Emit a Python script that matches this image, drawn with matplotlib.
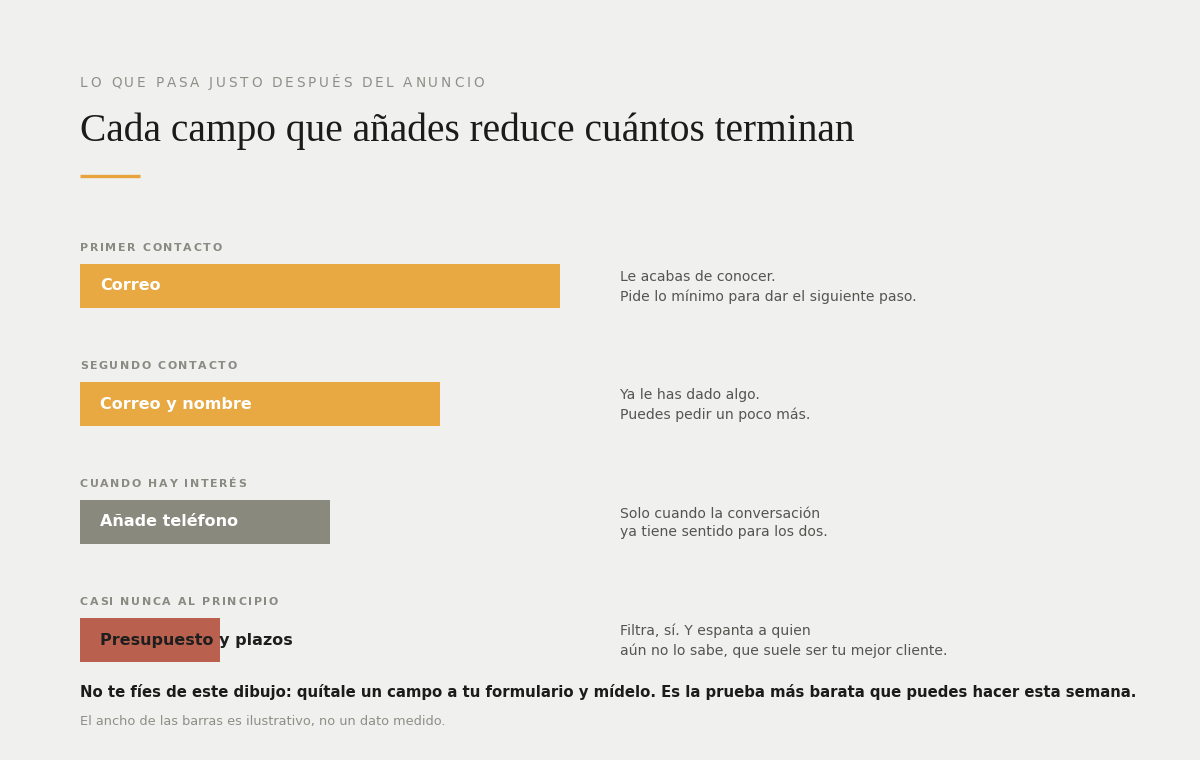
import matplotlib
matplotlib.use("Agg")
import matplotlib.pyplot as plt
from matplotlib import font_manager
from matplotlib.ft2font import FT2Font

# data
stages = ["PRIMER CONTACTO", "SEGUNDO CONTACTO", "CUANDO HAY INTERÉS", "CASI NUNCA AL PRINCIPIO"]
fields = ["Correo", "Correo y nombre", "Añade teléfono", "Presupuesto y plazos"]
widths = [100, 75, 52, 29.2]  # illustrative, not measured
notes = [
    "Le acabas de conocer.\nPide lo mínimo para dar el siguiente paso.",
    "Ya le has dado algo.\nPuedes pedir un poco más.",
    "Solo cuando la conversación\nya tiene sentido para los dos.",
    "Filtra, sí. Y espanta a quien\naún no lo sabe, que suele ser tu mejor cliente.",
]
bar_colors = ["#e8a842", "#e8a842", "#8a897e", "#b9614e"]
label_colors = ["white", "white", "white", "#1e1e1e"]

kicker = "LO QUE PASA JUSTO DESPUÉS DEL ANUNCIO"
title = "Cada campo que añades reduce cuántos terminan"
takeaway = "No te fíes de este dibujo: quítale un campo a tu formulario y mídelo. Es la prueba más barata que puedes hacer esta semana."
footnote = "El ancho de las barras es ilustrativo, no un dato medido."

BG = "#f0f1ee"
W, H = 1200, 760
DPI = 100

fig = plt.figure(figsize=(W / DPI, H / DPI), dpi=DPI, facecolor=BG)
ax = fig.add_axes([0, 0, 1, 1])
ax.set_xlim(0, W)
ax.set_ylim(H, 0)
ax.axis("off")
ax.set_facecolor(BG)


def spaced_text(x, y, s, spacing, fontsize, weight="normal", **kw):
    # no letter-spacing in matplotlib: lay out chars by their advance widths
    path = font_manager.findfont(font_manager.FontProperties(family="DejaVu Sans", weight=weight))
    font = FT2Font(path)
    font.set_size(fontsize, DPI)
    for ch in s:
        ax.text(x, y, ch, fontsize=fontsize, fontweight=weight, ha="left", **kw)
        x += font.load_char(ord(ch)).linearHoriAdvance / 65536 + spacing


spaced_text(80, 83, kicker, 2.75, 9.8, color="#8e8e86", va="center")
ax.text(80, 131, title, fontsize=28.4, family="Liberation Serif", color="#1b1b1b",
        va="center", ha="left")
ax.plot([80, 140], [175.5, 175.5], color="#e8a33d", lw=2.4, solid_capstyle="butt")

# bars in their own axes
top_px, bot_px = 264, 662
bax = fig.add_axes([80 / W, 1 - bot_px / H, 480 / W, (bot_px - top_px) / H])
bax.set_facecolor("none")
bax.axis("off")
row = 118.0
bh = 44.0 / row
bax.set_xlim(0, 100)
bax.set_ylim(3 + bh / 2, -bh / 2)
ypos = list(range(len(fields)))
bax.barh(ypos, widths, height=bh, color=bar_colors, left=0)

for i, y in enumerate(ypos):
    bax.text(4.17, y, fields[i], fontsize=11.5, fontweight="bold",
             color=label_colors[i], va="center", ha="left", clip_on=False)
    spaced_text(80, 248 + i * row, stages[i], 1.6, 7.9, weight="bold",
                color="#8a8a82", va="center")
    ax.text(620, 287 + i * row, notes[i], fontsize=10.1, color="#555550",
            va="center", ha="left", linespacing=1.45)

ax.text(80, 692, takeaway, fontsize=10.76, fontweight="bold", color="#1b1b1b",
        va="center", ha="left")
ax.text(80, 721, footnote, fontsize=9.3, color="#8e8e86", va="center", ha="left")

fig.savefig("out.png", dpi=DPI, facecolor=BG)
